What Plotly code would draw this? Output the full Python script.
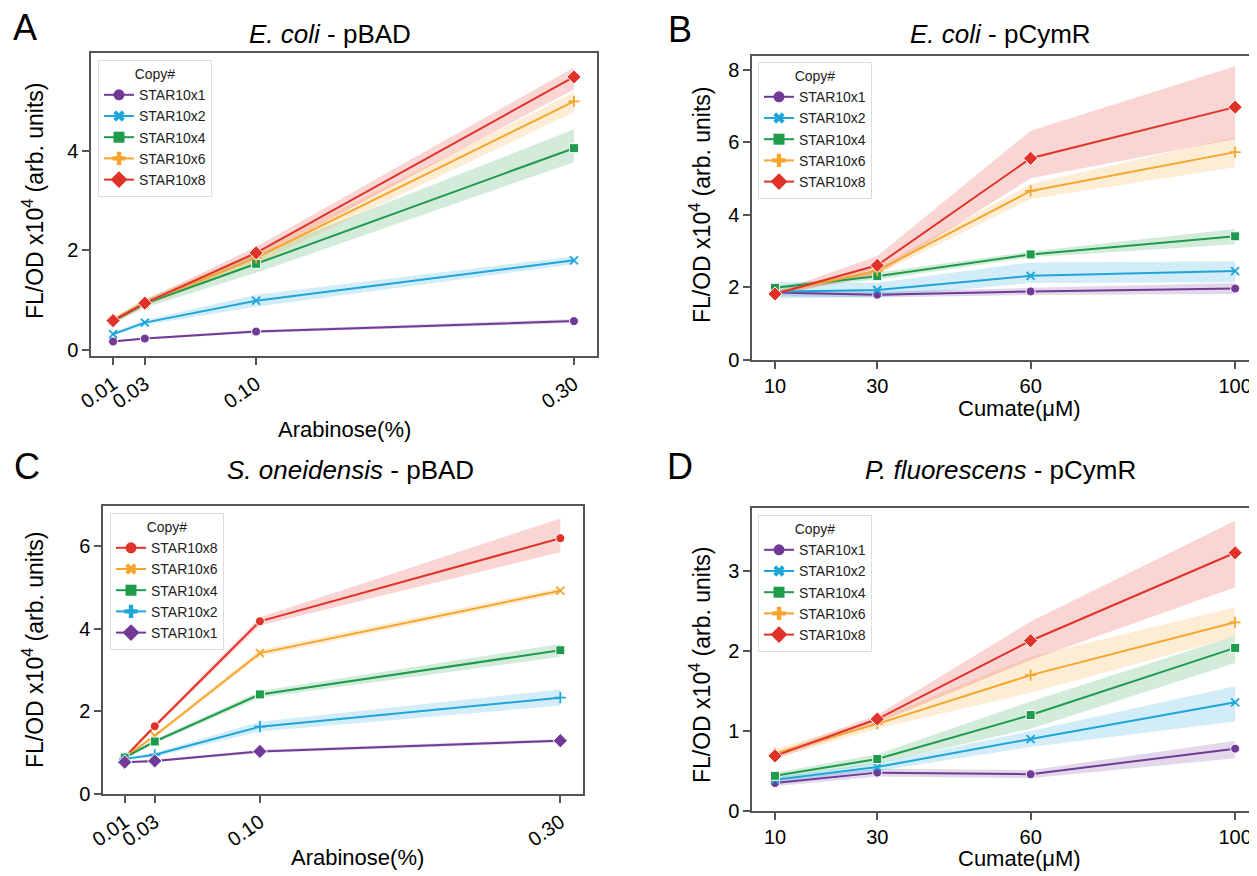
import plotly.graph_objects as go

# Page body adds an 8px margin; the figure is laid out in reference pixel
# coordinates shifted by that offset.
OFF = 8
W, H = 1257 - OFF, 876 - OFF

arabinose = [0.01, 0.03, 0.10, 0.30]
arabinose_ticks = ["0.01", "0.03", "0.10", "0.30"]
cumate = [10, 30, 60, 100]
cumate_ticks = ["10", "30", "60", "100"]

labels_up = ["STAR10x1", "STAR10x2", "STAR10x4", "STAR10x6", "STAR10x8"]
labels_down = ["STAR10x8", "STAR10x6", "STAR10x4", "STAR10x2", "STAR10x1"]

# Panel A: E. coli - pBAD (rows follow labels_up)
A_mean = [[0.17, 0.23, 0.37, 0.58],
          [0.32, 0.55, 0.99, 1.80],
          [0.58, 0.93, 1.73, 4.05],
          [0.60, 0.95, 1.85, 4.99],
          [0.59, 0.94, 1.95, 5.48]]
A_lo = [[0.15, 0.21, 0.34, 0.54],
        [0.28, 0.50, 0.87, 1.72],
        [0.53, 0.85, 1.55, 3.77],
        [0.55, 0.87, 1.73, 4.77],
        [0.54, 0.88, 1.83, 5.23]]
A_hi = [[0.19, 0.25, 0.40, 0.62],
        [0.36, 0.60, 1.11, 1.88],
        [0.63, 1.01, 1.92, 4.43],
        [0.65, 1.03, 1.97, 5.17],
        [0.64, 1.00, 2.07, 5.67]]

# Panel B: E. coli - pCymR (rows follow labels_up)
B_mean = [[1.86, 1.80, 1.89, 1.97],
          [1.88, 1.93, 2.32, 2.45],
          [1.99, 2.31, 2.91, 3.41],
          [1.85, 2.46, 4.66, 5.73],
          [1.82, 2.61, 5.56, 6.97]]
B_lo = [[1.76, 1.72, 1.79, 1.82],
        [1.70, 1.73, 2.12, 2.14],
        [1.94, 2.21, 2.83, 3.19],
        [1.80, 2.36, 4.44, 5.31],
        [1.77, 2.35, 5.01, 6.09]]
B_hi = [[1.96, 1.88, 1.99, 2.12],
        [2.15, 2.13, 2.69, 2.72],
        [2.04, 2.41, 2.99, 3.61],
        [1.90, 2.56, 4.85, 6.14],
        [1.87, 2.87, 6.32, 8.10]]

# Panel C: S. oneidensis - pBAD (rows follow labels_down)
C_mean = [[0.89, 1.64, 4.18, 6.19],
          [0.89, 1.41, 3.41, 4.92],
          [0.88, 1.27, 2.41, 3.48],
          [0.85, 0.95, 1.63, 2.33],
          [0.77, 0.80, 1.03, 1.29]]
C_lo = [[0.85, 1.58, 4.08, 5.85],
        [0.86, 1.36, 3.33, 4.84],
        [0.85, 1.22, 2.33, 3.32],
        [0.82, 0.90, 1.51, 2.14],
        [0.75, 0.77, 0.99, 1.25]]
C_hi = [[0.93, 1.70, 4.28, 6.67],
        [0.92, 1.46, 3.49, 5.00],
        [0.91, 1.32, 2.49, 3.63],
        [0.88, 1.00, 1.75, 2.53],
        [0.79, 0.83, 1.07, 1.33]]

# Panel D: P. fluorescens - pCymR (rows follow labels_up)
D_mean = [[0.35, 0.48, 0.46, 0.78],
          [0.39, 0.55, 0.90, 1.36],
          [0.44, 0.65, 1.20, 2.04],
          [0.72, 1.09, 1.70, 2.36],
          [0.69, 1.15, 2.13, 3.23]]
D_lo = [[0.31, 0.43, 0.41, 0.66],
        [0.36, 0.50, 0.80, 1.12],
        [0.40, 0.59, 1.03, 1.85],
        [0.66, 1.03, 1.48, 2.18],
        [0.65, 1.10, 1.89, 2.80]]
D_hi = [[0.39, 0.53, 0.51, 0.88],
        [0.42, 0.60, 1.00, 1.56],
        [0.48, 0.71, 1.37, 2.19],
        [0.78, 1.15, 1.93, 2.55],
        [0.73, 1.20, 2.37, 3.63]]

COLORS = {"STAR10x1": (112, 58, 150), "STAR10x2": (30, 165, 218),
          "STAR10x4": (30, 155, 75), "STAR10x6": (246, 165, 45),
          "STAR10x8": (224, 50, 40)}
MARKERS = ["circle", "x", "square", "cross", "diamond"]
DATA_MARKERS = ["circle", "x-thin", "square", "cross-thin", "diamond"]
SIZES = [9, 8, 9, 9, 11]

FONT = "Liberation Sans, Arial, sans-serif"
AX = "#555555"

fig = go.Figure()


def rgb(c, a=None):
    if a is None:
        return "rgb(%d,%d,%d)" % c
    return "rgba(%d,%d,%d,%s)" % (c + (a,))


def add_panel(idx, xs, labels, mean, lo, hi):
    xa = "x" if idx == 1 else "x%d" % idx
    ya = "y" if idx == 1 else "y%d" % idx
    lg = "legend" if idx == 1 else "legend%d" % idx
    for i, lab in enumerate(labels):
        c = COLORS[lab]
        fig.add_trace(go.Scatter(
            x=list(xs) + list(xs)[::-1], y=list(hi[i]) + list(lo[i])[::-1],
            fill="toself", fillcolor=rgb(c, 0.2), line=dict(width=0),
            mode="lines", hoverinfo="skip", showlegend=False, xaxis=xa, yaxis=ya))
    for i, lab in enumerate(labels):
        c = COLORS[lab]
        sym = DATA_MARKERS[i]
        thin = sym.endswith("thin")
        fig.add_trace(go.Scatter(
            x=xs, y=mean[i], mode="lines+markers", name=lab, showlegend=False,
            line=dict(color=rgb(c), width=2),
            marker=dict(symbol=sym, size=8 if thin else SIZES[i], color=rgb(c),
                        line=dict(color=rgb(c) if thin else "white", width=1.8 if thin else 1)),
            xaxis=xa, yaxis=ya))
    for i, lab in enumerate(labels):
        c = COLORS[lab]
        fig.add_trace(go.Scatter(
            x=[None], y=[None], mode="lines+markers", name=lab, legend=lg,
            line=dict(color=rgb(c), width=2),
            marker=dict(symbol=MARKERS[i], size=SIZES[i] + 2, color=rgb(c),
                        line=dict(color=rgb(c), width=0)),
            xaxis=xa, yaxis=ya))


add_panel(1, arabinose, labels_up, A_mean, A_lo, A_hi)
add_panel(2, cumate, labels_up, B_mean, B_lo, B_hi)
add_panel(3, arabinose, labels_down, C_mean, C_lo, C_hi)
add_panel(4, cumate, labels_up, D_mean, D_lo, D_hi)


def px_x(p):
    return (p - OFF) / W


def px_y(p):
    return 1 - (p - OFF) / H


axis_common = dict(showline=True, linecolor=AX, linewidth=1.5, mirror=True,
                   ticks="outside", ticklen=7, tickwidth=1.5, tickcolor=AX,
                   showgrid=False, zeroline=False, automargin=False,
                   tickfont=dict(size=20, color="black", family=FONT))

fig.update_layout(
    xaxis=dict(axis_common, domain=[px_x(91), px_x(597)], range=[-0.0039, 0.3145],
               tickvals=arabinose, ticktext=arabinose_ticks, tickangle=-35, anchor="y"),
    yaxis=dict(axis_common, domain=[px_y(356), px_y(53)], range=[-0.12, 5.96],
               tickvals=[0, 2, 4], anchor="x"),
    xaxis2=dict(axis_common, domain=[px_x(752), px_x(1252)], range=[5.5, 103.3],
                tickvals=cumate, ticktext=cumate_ticks, anchor="y2"),
    yaxis2=dict(axis_common, domain=[px_y(360), px_y(56)], range=[0, 8.38],
                tickvals=[0, 2, 4, 6, 8], anchor="x2"),
    xaxis3=dict(axis_common, domain=[px_x(103), px_x(583)], range=[-0.00445, 0.3151],
                tickvals=arabinose, ticktext=arabinose_ticks, tickangle=-35, anchor="y3"),
    yaxis3=dict(axis_common, domain=[px_y(794), px_y(506)], range=[0, 6.97],
                tickvals=[0, 2, 4, 6], anchor="x3"),
    xaxis4=dict(axis_common, domain=[px_x(752), px_x(1252)], range=[5.5, 103.3],
                tickvals=cumate, ticktext=cumate_ticks, anchor="y4"),
    yaxis4=dict(axis_common, domain=[px_y(811), px_y(508)], range=[0, 3.79],
                tickvals=[0, 1, 2, 3], anchor="x4"),
)

leg_common = dict(xanchor="left", yanchor="top", bgcolor="white",
                  bordercolor="#dddddd", borderwidth=1,
                  font=dict(size=14, color="#222222", family=FONT),
                  title=dict(text="Copy#", side="top center", font=dict(size=14, family=FONT)),
                  tracegroupgap=0, itemwidth=30)
fig.update_layout(
    legend=dict(leg_common, x=px_x(98), y=px_y(60)),
    legend2=dict(leg_common, x=px_x(758), y=px_y(62)),
    legend3=dict(leg_common, x=px_x(110), y=px_y(513)),
    legend4=dict(leg_common, x=px_x(758), y=px_y(515)),
)

annotations = []


def ann(txt, x, y, size, angle=0):
    annotations.append(dict(text=txt, x=px_x(x), y=px_y(y), xref="paper", yref="paper",
                            xanchor="center", yanchor="middle", showarrow=False,
                            textangle=angle, font=dict(size=size, family=FONT, color="black")))


for txt, x, y in [("A", 25, 27), ("B", 680, 30), ("C", 27, 467), ("D", 680, 467)]:
    ann(txt, x, y, 36)
for txt, x, y in [("<i>E. coli</i> - pBAD", 330, 34), ("<i>E. coli</i> - pCymR", 1000, 34),
                  ("<i>S. oneidensis</i> - pBAD", 350, 470),
                  ("<i>P. fluorescens</i> - pCymR", 1000, 470)]:
    ann(txt, x, y, 26)

ylab = "FL/OD x10<sup>4</sup> (arb. units)"
for x, y in [(33, 201), (700, 205), (33, 650), (700, 665)]:
    ann(ylab, x, y, 23, -90)
for txt, x, y in [("Arabinose(%)", 344, 430), ("Cumate(μM)", 1019, 408),
                  ("Arabinose(%)", 357, 857), ("Cumate(μM)", 1019, 858)]:
    ann(txt, x, y, 22)

fig.update_layout(
    width=W, height=H, margin=dict(l=0, r=0, t=0, b=0),
    paper_bgcolor="white", plot_bgcolor="white",
    annotations=annotations, font=dict(family=FONT),
)

fig.write_html("out.html")
